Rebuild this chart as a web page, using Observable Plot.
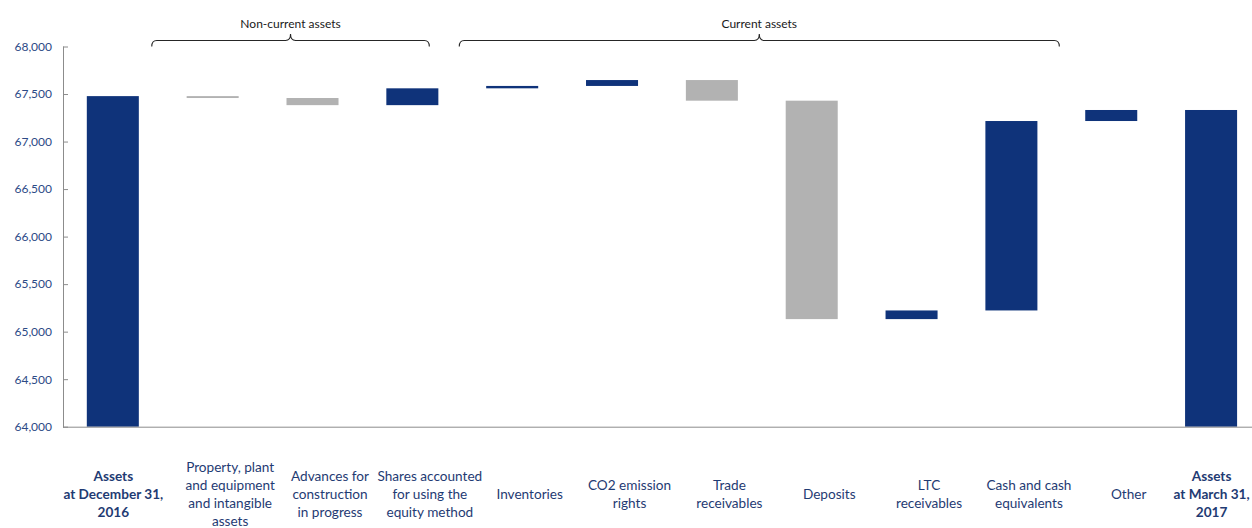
<!DOCTYPE html>
<html>
<head>
<meta charset="utf-8">
<script src="https://cdn.jsdelivr.net/npm/d3@7"></script>
<script src="https://cdn.jsdelivr.net/npm/@observablehq/plot@0.6"></script>
<style>
  body { margin: 0; background: #fff; }
  #chart svg { display: block; }
</style>
</head>
<body>
<div id="chart"></div>
<script>
// Category labels (line breaks as printed under each bar)
const categories = [
  "Assets\nat December 31,\n2016",
  "Property, plant\nand equipment\nand intangible\nassets",
  "Advances for\nconstruction\nin progress",
  "Shares accounted\nfor using the\nequity method",
  "Inventories",
  "CO2 emission\nrights",
  "Trade\nreceivables",
  "Deposits",
  "LTC\nreceivables",
  "Cash and cash\nequivalents",
  "Other",
  "Assets\nat March 31,\n2017"
];

// Opening total and the change contributed by each item in between
const openingTotal = 67478;
const changes = [-20, -75, 177, 25, 62, -217, -2298, 91, 1993, 116];

// Value axis ticks
const yTicks = [64000, 64500, 65000, 65500, 66000, 66500, 67000, 67500, 68000];

// Brace groups over the items: label, first and last category index
const groupLabels = ["Non-current assets", "Current assets"];
const groupFirst = [1, 4];
const groupLast = [3, 9];

const NAVY = "#0f337a";
const GREY = "#b2b2b2";
const TEXT = "#1f3b73";

// Build the waterfall rows
const rows = [];
let running = openingTotal;
rows.push({cat: categories[0], y1: yTicks[0], y2: openingTotal, kind: "total"});
changes.forEach((d, i) => {
  const start = running;
  running += d;
  rows.push({cat: categories[i + 1], y1: start, y2: running, kind: d >= 0 ? "up" : "down"});
});
rows.push({cat: categories[categories.length - 1], y1: yTicks[0], y2: running, kind: "total"});

const boldCats = [categories[0], categories[categories.length - 1]];
const plainCats = categories.slice(1, -1);

const chart = Plot.plot({
  width: 1252,
  height: 528,
  marginTop: 46.5,
  marginBottom: 101.3,
  marginLeft: 63,
  marginRight: 0,
  style: {fontFamily: "Lato, 'Open Sans', sans-serif", fontSize: "12px", background: "#fff"},
  x: {domain: categories, range: [62.9, 1261], paddingInner: 0.479, paddingOuter: 0.2395, round: false, axis: null},
  y: {domain: [64000, 68000], axis: null},
  marks: [
    Plot.barY(rows, {
      x: "cat", y1: "y1", y2: "y2",
      fill: d => d.kind === "down" ? GREY : NAVY
    }),
    Plot.frame({anchor: "left", stroke: "#8c8c8c"}),
    Plot.ruleY([yTicks[0]], {stroke: "#8c8c8c"}),
    // inside tick marks
    Plot.axisY(yTicks, {tickSize: 5, dx: 5, tickFormat: () => "", stroke: "#8c8c8c", label: null}),
    // tick labels
    Plot.axisY(yTicks, {tickSize: 0, tickPadding: 11.5, tickFormat: d3.format(","), fill: "#2c4a86", fontSize: 12, label: null}),
    // category labels
    Plot.text(plainCats, {
      x: d => d, frameAnchor: "bottom", dy: 66, dx: 17,
      lineAnchor: "middle", lineHeight: 1.34, fontSize: 13.6,
      fill: TEXT, textAnchor: "middle"
    }),
    Plot.text(boldCats, {
      x: d => d, frameAnchor: "bottom", dy: 66,
      lineAnchor: "middle", lineHeight: 1.34, fontSize: 13.6, fontWeight: "bold",
      fill: TEXT, textAnchor: "middle"
    })
  ]
});

document.getElementById("chart").appendChild(chart);

// Curly braces above the groups, placed through the chart's own scales
const xs = chart.scale("x");
const ys = chart.scale("y");
const step = xs.step;
const slotStart = i => xs.apply(categories[i]) - (step - xs.bandwidth) / 2;
const braceTrim = [[-0.11, -0.33], [-0.03, -0.02]];
const plotTop = ys.apply(yTicks[yTicks.length - 1]);
const lineY = plotTop - 6, cuspY = plotTop - 12.5, endY = plotTop;
const svg = d3.select(chart);

groupLabels.forEach((label, g) => {
  const xL = slotStart(groupFirst[g]) + braceTrim[g][0] * step;
  const xR = slotStart(groupLast[g]) + step + braceTrim[g][1] * step;
  const mid = (xL + xR) / 2;
  const r = 5;
  const p = d3.path();
  p.moveTo(xL, endY);
  p.quadraticCurveTo(xL, lineY, xL + r, lineY);
  p.lineTo(mid - r, lineY);
  p.quadraticCurveTo(mid, lineY, mid, cuspY);
  p.quadraticCurveTo(mid, lineY, mid + r, lineY);
  p.lineTo(xR - r, lineY);
  p.quadraticCurveTo(xR, lineY, xR, endY);
  svg.append("path")
    .attr("d", p.toString())
    .attr("fill", "none")
    .attr("stroke", "#262626")
    .attr("stroke-width", 1.1);
  svg.append("text")
    .attr("x", mid)
    .attr("y", plotTop - 23)
    .attr("dy", "0.35em")
    .attr("text-anchor", "middle")
    .attr("fill", "#1a1a1a")
    .style("font-size", "12px")
    .text(label);
});
</script>
</body>
</html>
